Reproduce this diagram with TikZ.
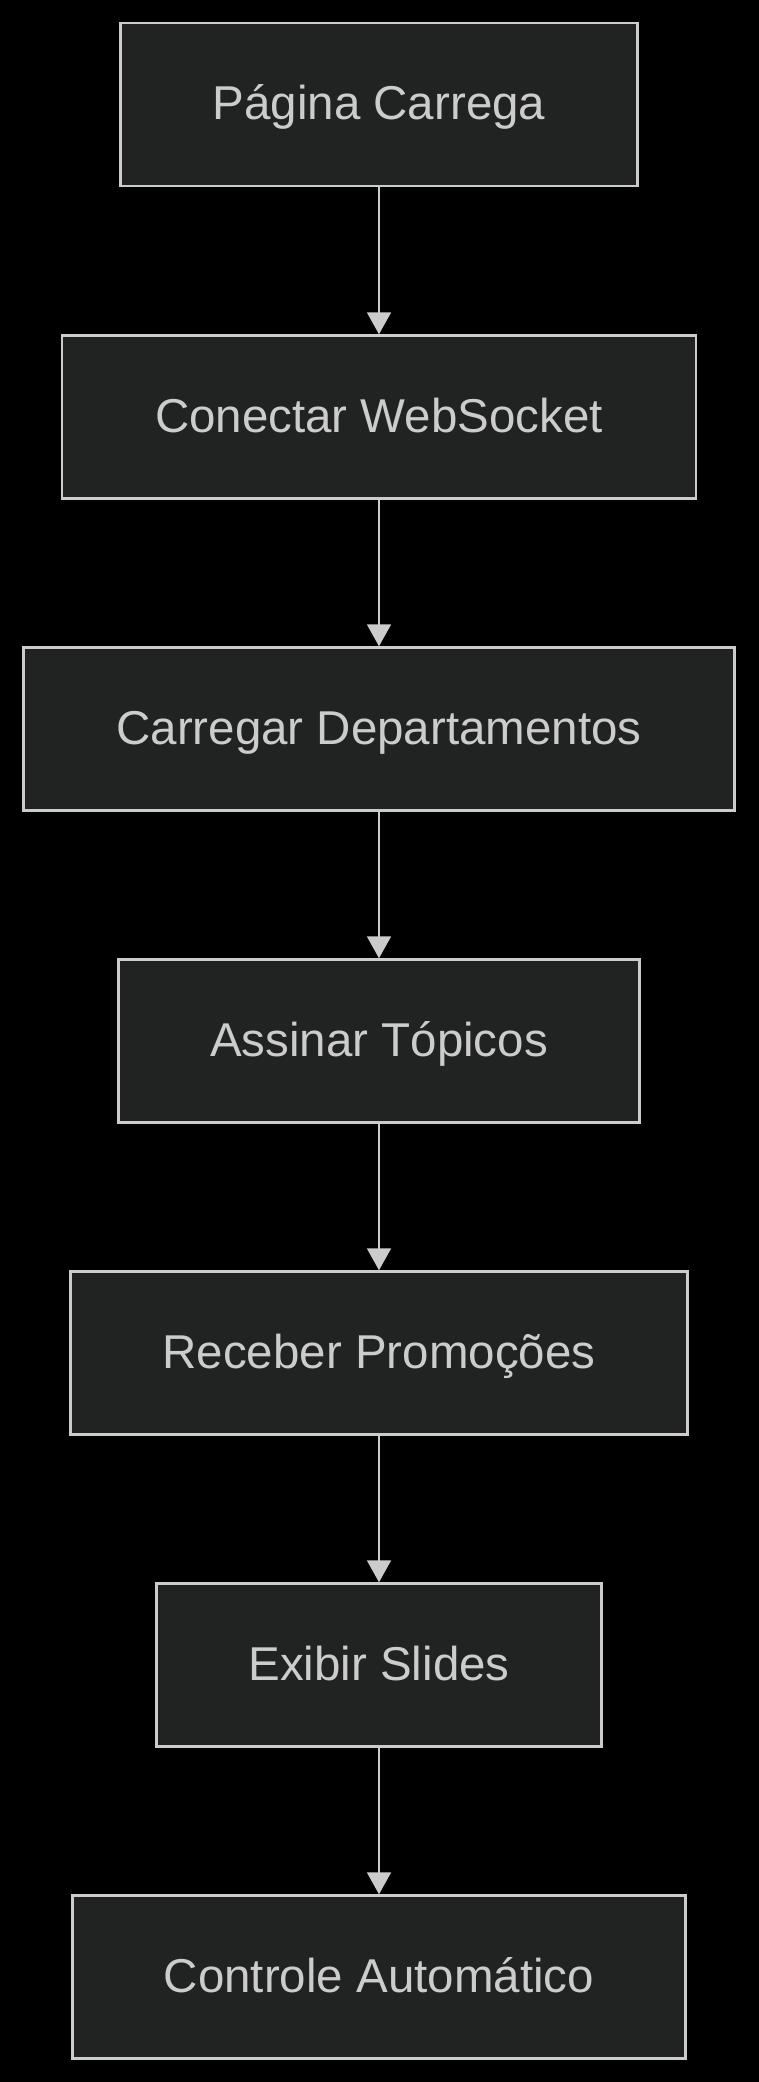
\documentclass[tikz,border=0pt]{standalone}
\usepackage{fontspec}
\setmainfont{Liberation Sans}
\usetikzlibrary{arrows.meta}
\definecolor{boxfill}{HTML}{212322}
\definecolor{edgecol}{HTML}{CCCCCC}
\begin{document}
\begin{tikzpicture}[x=1pt,y=-1pt,
  box/.style={draw=edgecol, fill=boxfill, line width=2.5pt, minimum height=163pt,
    text=edgecol, font=\fontsize{47.5}{57}\selectfont, text height=34pt, text depth=3pt, inner sep=0pt},
  conn/.style={draw=edgecol, line width=2pt, -{Triangle[width=24pt,length=22pt]}}]
\useasboundingbox (0,0) rectangle (758,2082);
\fill[black] (-10,-10) rectangle (768,2092);
\node[box, minimum width=517pt] (a) at (379,104.5) {Página Carrega};
\node[box, minimum width=634pt] (b) at (379,417) {Conectar WebSocket};
\node[box, minimum width=711pt] (c) at (379,729) {Carregar Departamentos};
\node[box, minimum width=521pt] (d) at (379,1041) {Assinar Tópicos};
\node[box, minimum width=617pt] (e) at (379,1353) {Receber Promoções};
\node[box, minimum width=445pt] (f) at (379,1665) {Exibir Slides};
\node[box, minimum width=613pt] (g) at (379,1977) {Controle Automático};
\draw[conn] (a) -- (b);
\draw[conn] (b) -- (c);
\draw[conn] (c) -- (d);
\draw[conn] (d) -- (e);
\draw[conn] (e) -- (f);
\draw[conn] (f) -- (g);
\end{tikzpicture}
\end{document}
